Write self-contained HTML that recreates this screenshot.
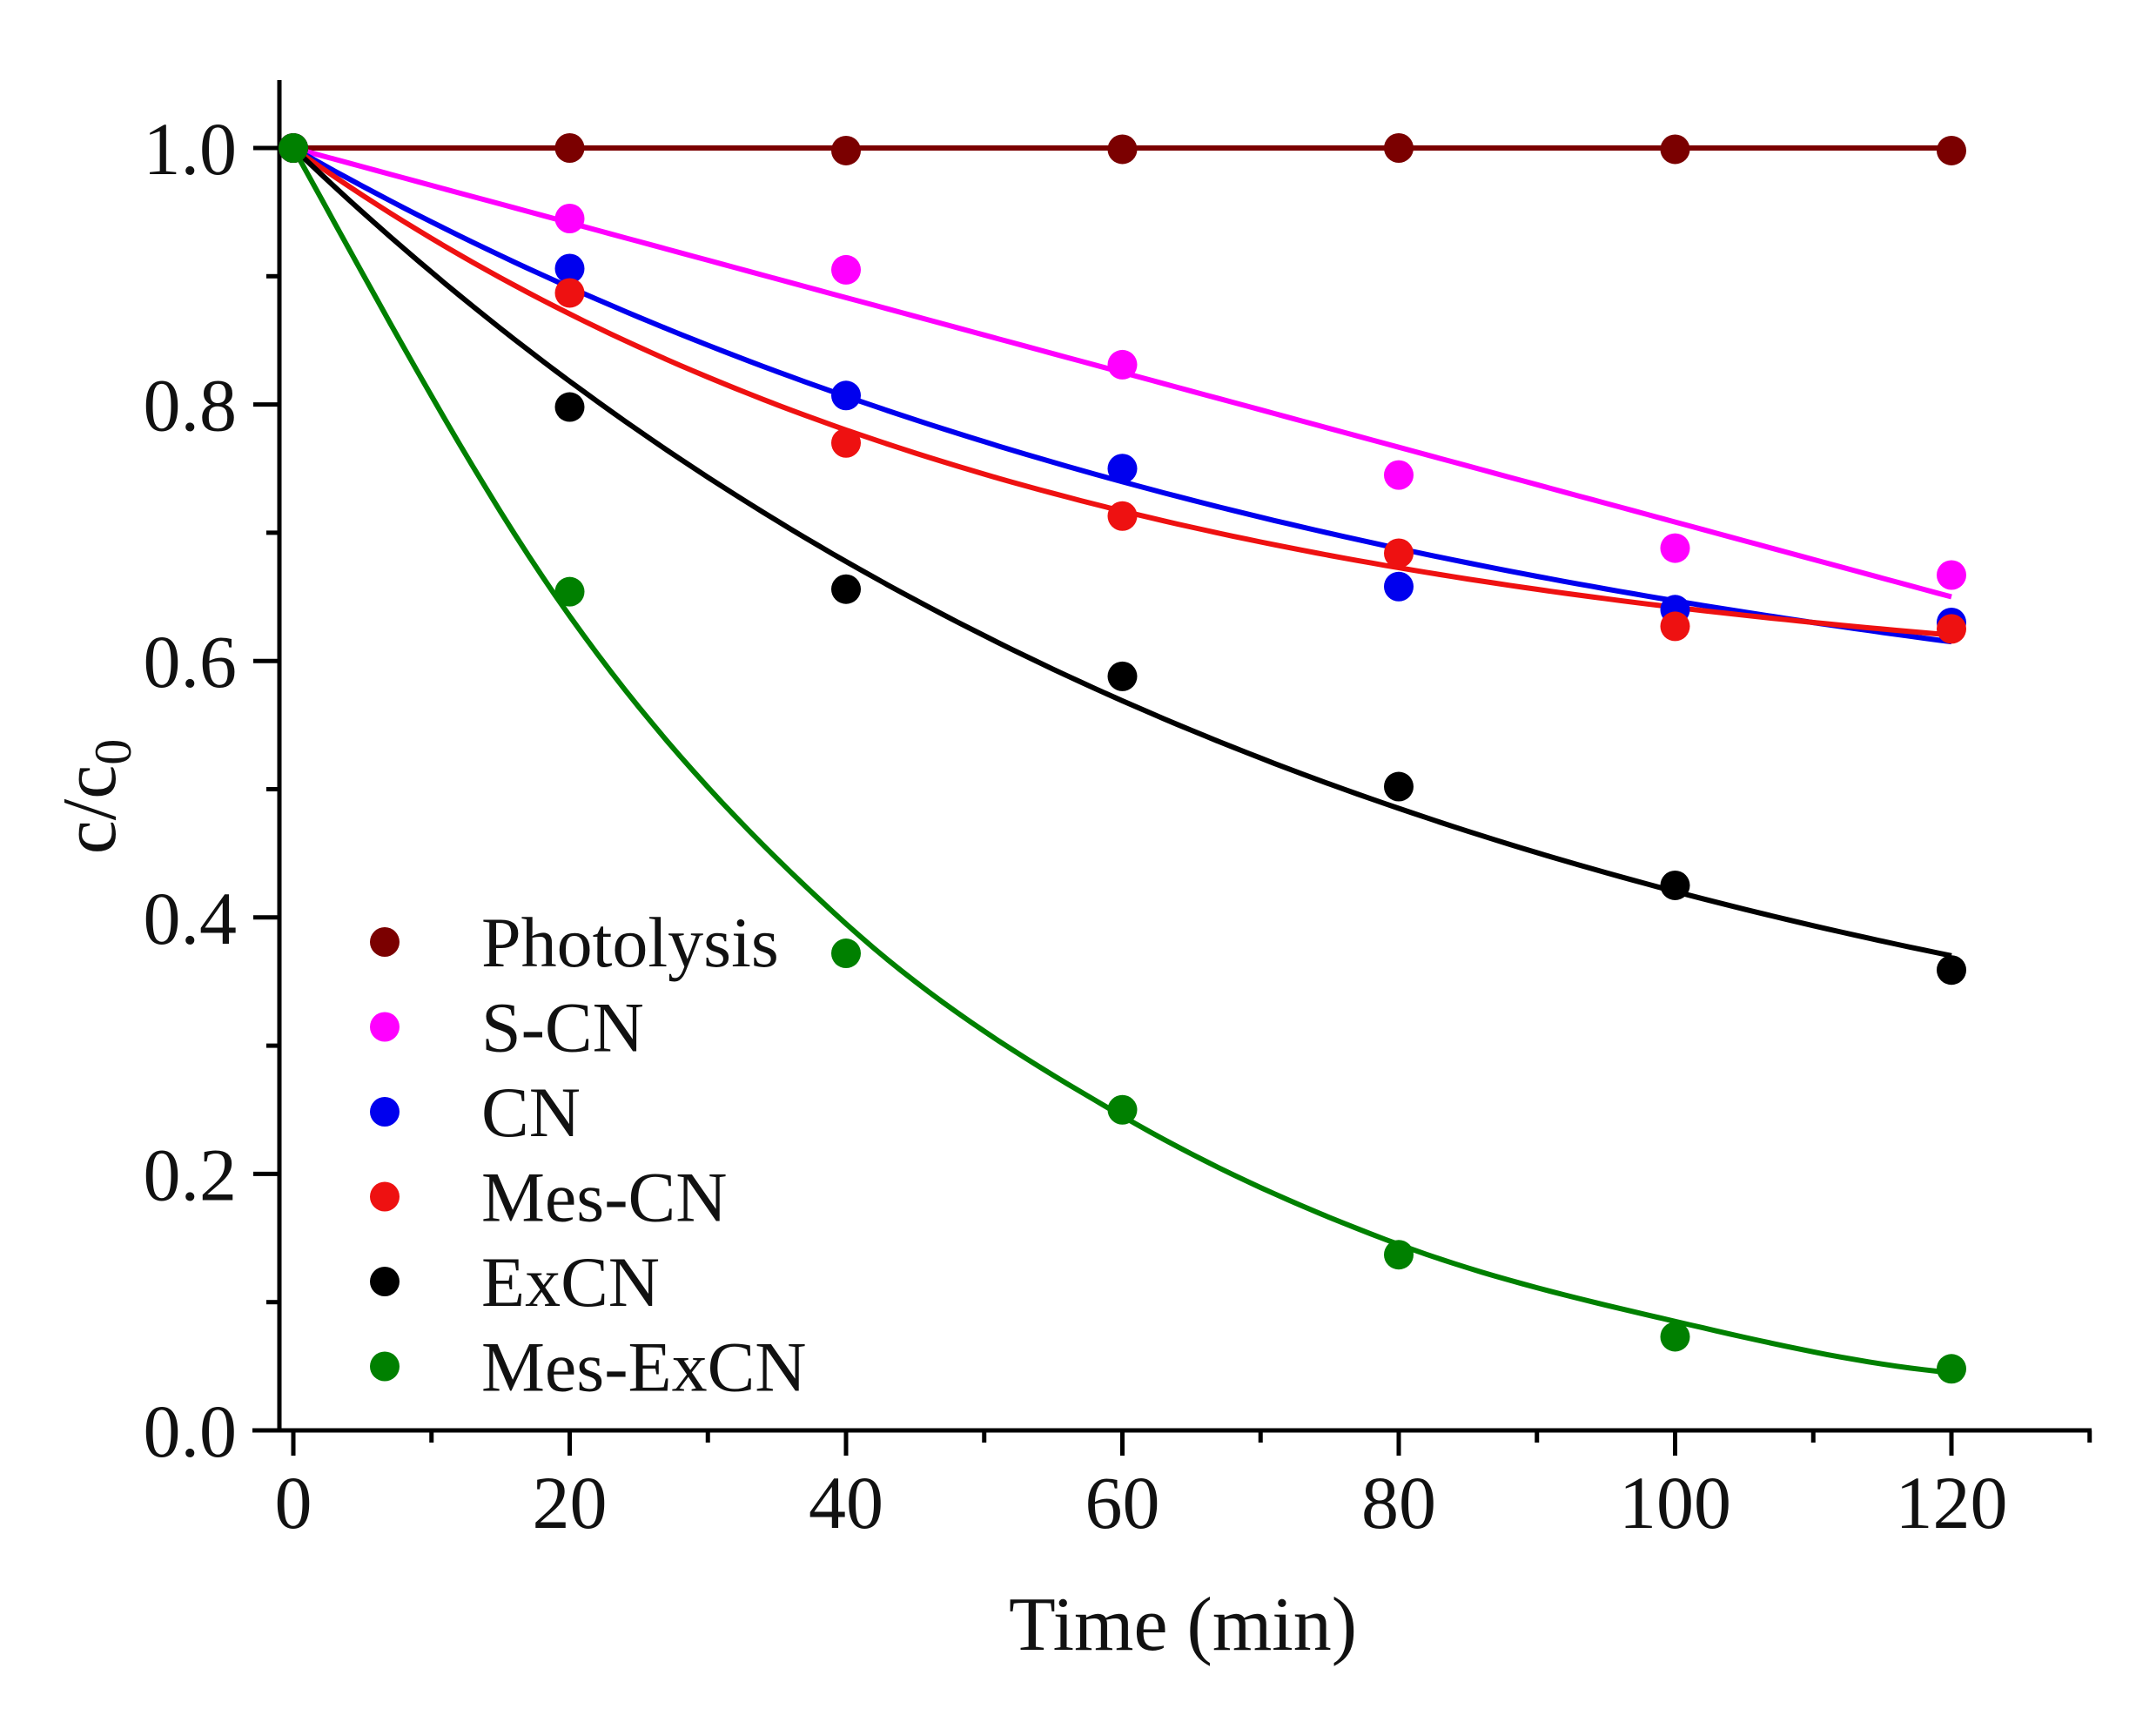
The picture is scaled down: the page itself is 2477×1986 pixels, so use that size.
<!DOCTYPE html>
<html><head><meta charset="utf-8"><style>
html,body{margin:0;padding:0;background:#fff;}
svg{display:block;font-family:"Liberation Serif",serif;}
</style></head><body>
<svg id="s" width="2477" height="1986" viewBox="0 0 2477 1986" xmlns="http://www.w3.org/2000/svg">
<rect width="2477" height="1986" fill="#fff"/>
<g id="axes" stroke="#000" stroke-width="5" fill="none">
<line x1="321" y1="92" x2="321" y2="1645"/>
<line x1="290" y1="1643" x2="2403" y2="1643"/>
</g>
<g id="ticks" stroke="#000" stroke-width="5"></g>
<g id="labels" font-size="86" fill="#111"></g>
<text x="1359" y="1895" font-size="88" text-anchor="middle" fill="#111">Time (min)</text>
<text transform="translate(132,915) rotate(-90)" font-size="88" text-anchor="middle" fill="#111">c/c<tspan font-size="60" dy="18">0</tspan></text>
<g id="curves" fill="none" stroke-width="6"></g>
<g id="pts"></g>
<g id="legend" font-size="82" fill="#111"></g>
</svg>
<script>
var NS="http://www.w3.org/2000/svg";
function X(t){return 337+t*317.5/20;}
function Y(v){return 1643-v*1473;}
function el(p,n,a,txt){var e=document.createElementNS(NS,n);for(var k in a)e.setAttribute(k,a[k]);if(txt!==undefined)e.textContent=txt;document.getElementById(p).appendChild(e);return e;}
for(var t=0;t<=130;t+=10){var maj=t%20==0;el("ticks","line",{x1:X(t),y1:1643,x2:X(t),y2:maj?1672:1657});
 if(maj&&t<=120)el("labels","text",{x:X(t),y:1755,"text-anchor":"middle"},String(t));}
for(var i=0;i<=10;i++){var v=i/10,maj=i%2==0;el("ticks","line",{x1:maj?291:306,y1:Y(v),x2:321,y2:Y(v)});
 if(maj)el("labels","text",{x:272,y:Y(v)+30,"text-anchor":"end"},v.toFixed(1));}
var series=[
 {n:"Photolysis",c:"#7b0000",p:[1,1,0.998,0.999,1,0.999,0.998],f:function(t){return 1;}},
 {n:"S-CN",c:"#ff00ff",p:[1,0.945,0.905,0.831,0.745,0.688,0.667],f:function(t){return 1-0.35*t/120;}},
 {n:"CN",c:"#0000ee",p:[1,0.906,0.807,0.750,0.658,0.64,0.63],f:function(t){return 0.5+0.5*Math.exp(-0.01225*t);}},
 {n:"Mes-CN",c:"#ee1111",p:[1,0.887,0.77,0.713,0.684,0.627,0.625],f:function(t){return 0.57+0.43*Math.exp(-0.0179*t);}},
 {n:"ExCN",c:"#000000",p:[1,0.798,0.656,0.588,0.502,0.425,0.359],f:function(t){return 0.2+0.8*Math.exp(-0.0129*t);}},
 {n:"Mes-ExCN",c:"#008000",p:[1,0.654,0.372,0.25,0.137,0.073,0.048],f:null}
];
var kn=[1,0.635,0.395,0.245,0.145,0.085,0.045];
series[5].f=function(t){var s=t/20,i=Math.min(5,Math.floor(s)),u=s-i;
 var p0=kn[Math.max(0,i-1)],p1=kn[i],p2=kn[i+1],p3=kn[Math.min(6,i+2)];
 if(i==0)p0=2*p1-p2+0.05;
 return 0.5*((2*p1)+(-p0+p2)*u+(2*p0-5*p1+4*p2-p3)*u*u+(-p0+3*p1-3*p2+p3)*u*u*u);};
series.forEach(function(s,k){
 var d="";for(var t=0;t<=120;t+=1){d+=(t?"L":"M")+X(t).toFixed(1)+","+Y(s.f(t)).toFixed(1);}
 el("curves","path",{d:d,stroke:s.c});
});
series.forEach(function(s,k){
 s.p.forEach(function(v,i){el("pts","circle",{cx:X(i*20),cy:Y(v),r:17,fill:s.c});});
 var y=1082+k*97.5;
 el("legend","circle",{cx:442,cy:y,r:17,fill:s.c});
 el("legend","text",{x:553,y:y+28},s.n);
});
</script>
</body></html>
